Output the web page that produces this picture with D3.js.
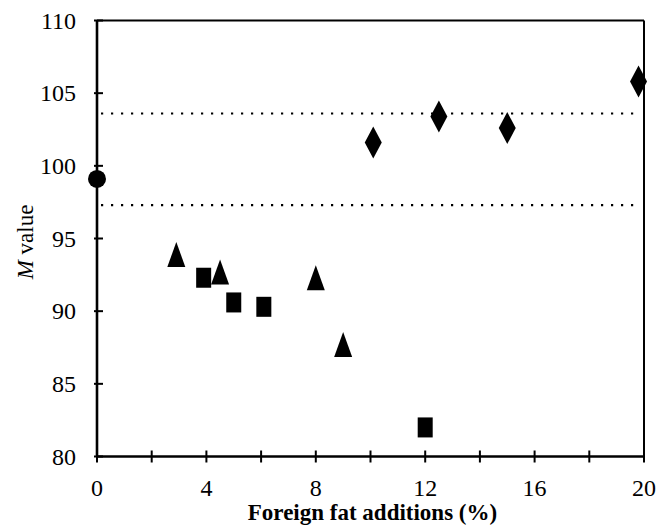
<!DOCTYPE html>
<html>
<head>
<meta charset="utf-8">
<script src="https://cdn.jsdelivr.net/npm/d3@7/dist/d3.min.js"></script>
<style>
  html, body { margin: 0; padding: 0; background: #fff; }
  svg { display: block; }
  text { font-family: "Liberation Serif", "Times New Roman", serif; fill: #000; }
</style>
</head>
<body>
<svg id="chart" width="660" height="529"></svg>
<script>
// ---- data ----
const xTicks = [0, 2, 4, 6, 8, 10, 12, 14, 16, 18, 20];
const xTickLabels = [0, 4, 8, 12, 16, 20];
const yTicks = [80, 85, 90, 95, 100, 105, 110];

const circleX = [0];
const circleY = [99.1];
const triangleX = [2.9, 4.5, 8.0, 9.0];
const triangleY = [93.9, 92.7, 92.3, 87.7];
const squareX = [3.9, 5.0, 6.1, 12.0];
const squareY = [92.3, 90.6, 90.3, 82.0];
const diamondX = [10.1, 12.5, 15.0, 19.8];
const diamondY = [101.6, 103.4, 102.6, 105.8];
const limitLines = [103.6, 97.3];

const xTitle = "Foreign fat additions (%)";

// ---- layout ----
(function () {
const svg = d3.select("#chart");
const pL = 97, pR = 644, pT = 20.5, pB = 456.5;
const x = d3.scaleLinear().domain([0, 20]).range([pL, pR]);
const y = d3.scaleLinear().domain([80, 110]).range([pB, pT]);

// frame top & right
svg.append("line").attr("x1", pL).attr("x2", pR).attr("y1", pT).attr("y2", pT)
  .attr("stroke", "#000").attr("stroke-width", 2);
svg.append("line").attr("x1", pR).attr("x2", pR).attr("y1", pT).attr("y2", pB)
  .attr("stroke", "#000").attr("stroke-width", 2);

// dotted limit lines
svg.selectAll("line.limit").data(limitLines).enter().append("line")
  .attr("class", "limit")
  .attr("x1", pL + 4).attr("x2", pR - 4)
  .attr("y1", d => y(d)).attr("y2", d => y(d))
  .attr("stroke", "#000").attr("stroke-width", 2.2)
  .attr("stroke-dasharray", "2.2,7.8");

// x axis
const gx = svg.append("g").attr("transform", `translate(0,${pB})`);
gx.append("line").attr("x1", pL).attr("x2", pR).attr("stroke", "#000").attr("stroke-width", 2.6);
gx.selectAll("line.tick").data(xTicks).enter().append("line")
  .attr("class", "tick")
  .attr("x1", d => x(d)).attr("x2", d => x(d)).attr("y1", -6).attr("y2", 6)
  .attr("stroke", "#000").attr("stroke-width", 2);
gx.selectAll("text").data(xTickLabels).enter().append("text")
  .attr("x", d => x(d)).attr("y", 39)
  .attr("text-anchor", "middle").attr("font-size", 24)
  .text(d => d);

// y axis
const gy = svg.append("g").attr("transform", `translate(${pL},0)`);
gy.append("line").attr("y1", pT).attr("y2", pB).attr("stroke", "#000").attr("stroke-width", 2.6);
gy.selectAll("line.tick").data(yTicks).enter().append("line")
  .attr("class", "tick")
  .attr("y1", d => y(d)).attr("y2", d => y(d)).attr("x1", -3).attr("x2", 6)
  .attr("stroke", "#000").attr("stroke-width", 2);
gy.selectAll("text").data(yTicks).enter().append("text")
  .attr("x", -21).attr("y", d => y(d) + 8)
  .attr("text-anchor", "end").attr("font-size", 24)
  .text(d => d);

// axis titles
svg.append("text").attr("x", (pL + pR) / 2 + 2).attr("y", 520)
  .attr("text-anchor", "middle").attr("font-size", 23).attr("font-weight", "bold")
  .text(xTitle);
const yt = svg.append("text")
  .attr("transform", `translate(33,242) rotate(-90)`)
  .attr("text-anchor", "middle").attr("font-size", 23);
yt.append("tspan").attr("font-style", "italic").text("M");
yt.append("tspan").text(" value");

// markers
const zip = (xs, ys) => xs.map((v, i) => [v, ys[i]]);
svg.selectAll("circle.pt").data(zip(circleX, circleY)).enter().append("circle")
  .attr("class", "pt")
  .attr("cx", d => x(d[0])).attr("cy", d => y(d[1])).attr("r", 9).attr("fill", "#000");

svg.selectAll("path.tri").data(zip(triangleX, triangleY)).enter().append("path")
  .attr("class", "tri")
  .attr("d", d => {
    const cx = x(d[0]), cy = y(d[1]), w = 18, h = 25;
    return `M${cx},${cy - h / 2}L${cx + w / 2},${cy + h / 2}L${cx - w / 2},${cy + h / 2}Z`;
  }).attr("fill", "#000");

svg.selectAll("rect.sq").data(zip(squareX, squareY)).enter().append("rect")
  .attr("class", "sq")
  .attr("x", d => x(d[0]) - 7.5).attr("y", d => y(d[1]) - 10)
  .attr("width", 15).attr("height", 20).attr("fill", "#000");

svg.selectAll("path.dia").data(zip(diamondX, diamondY)).enter().append("path")
  .attr("class", "dia")
  .attr("d", d => {
    const cx = x(d[0]), cy = y(d[1]), w = 17, h = 32;
    return `M${cx},${cy - h / 2}L${cx + w / 2},${cy}L${cx},${cy + h / 2}L${cx - w / 2},${cy}Z`;
  }).attr("fill", "#000");
})();
</script>
</body>
</html>
